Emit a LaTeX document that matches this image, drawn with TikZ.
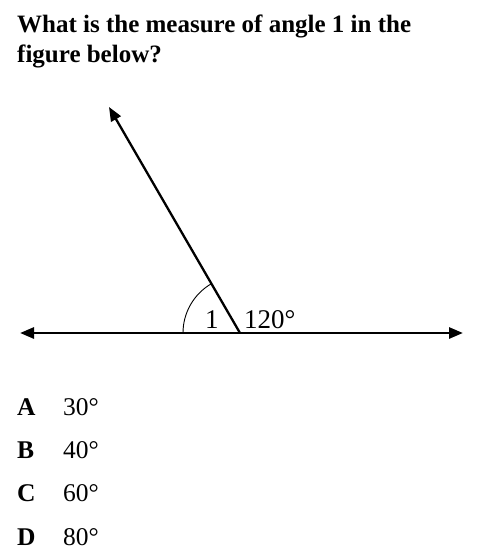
\documentclass[tikz,border=0pt]{standalone}
\usepackage{fontspec}
\setmainfont{Liberation Serif}
\usetikzlibrary{arrows.meta}
\begin{document}
\begin{tikzpicture}[x=1pt,y=-1pt,
  ray/.style={line width=2.8pt,-{Triangle[length=14pt,width=11pt]}},
  qtext/.style={anchor=base west,inner sep=0pt,font=\fontsize{25}{30}\selectfont\bfseries,align=left},
  lab/.style={anchor=base west,inner sep=0pt,font=\fontsize{27}{30}\selectfont},
  opt/.style={anchor=base west,inner sep=0pt,font=\fontsize{25.5}{30}\selectfont\bfseries},
  val/.style={anchor=base west,inner sep=0pt,font=\fontsize{25.5}{30}\selectfont}]
\useasboundingbox (0,0) rectangle (478,560);
\node[qtext] (q1) at (17,32) {What is the measure of angle 1 in the};
\node[qtext] (q2) at (17,62) {figure below?};
\coordinate (O) at (240,333);
\coordinate (L) at (20,333);
\coordinate (R) at (463,333);
\coordinate (T) at (109,107);
\draw[ray] (O) -- (L);
\draw[ray] (O) -- (R);
\draw[ray,line width=2.3pt] (O) -- (T);
\draw[line width=0.9pt] ([shift={(180:57)}]O) arc[start angle=180,end angle=240,radius=57];
\node[lab] (one) at (205,328) {1};
\node[lab] (ang) at (244,328) {120°};
\node[opt] (A) at (17,415) {A};
\node[val] (a) at (63,415) {30°};
\node[opt] (B) at (17,458) {B};
\node[val] (b) at (63,458) {40°};
\node[opt] (C) at (17,501) {C};
\node[val] (c) at (63,501) {60°};
\node[opt] (D) at (17,545) {D};
\node[val] (d) at (63,545) {80°};
\end{tikzpicture}
\end{document}
